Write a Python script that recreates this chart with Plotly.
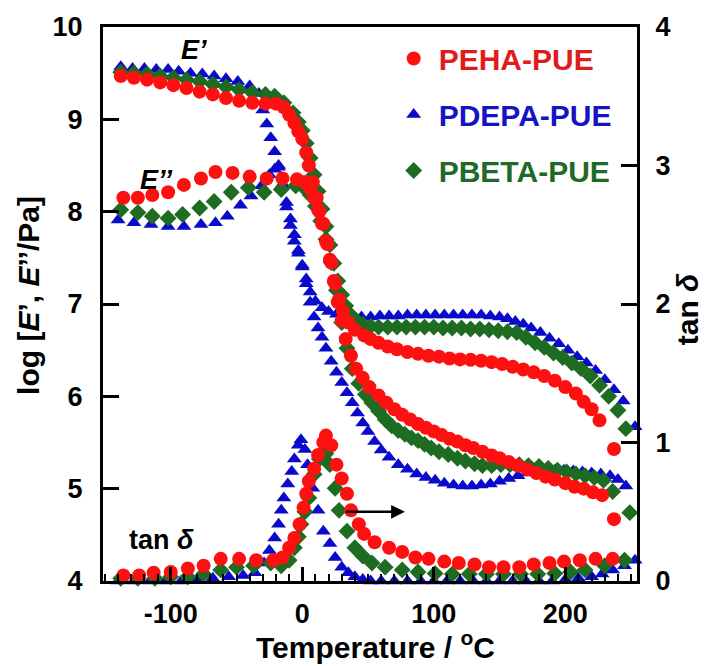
import plotly.graph_objects as go

# ---------------- data (temperature in degC) ----------------
# PEHA-PUE
peha_T_storage = [-138, -128, -118, -108, -98, -88, -78, -68, -58, -48, -38, -28, -20, -14, -10, -6, -3, 0, 3, 5, 8,
                  11, 13, 16, 19, 22, 25, 28, 31, 35, 40, 47, 52, 58, 65, 72, 80, 88, 96, 104, 112, 120, 128, 136,
                  144, 152, 160, 168, 176, 184, 192, 200, 208, 214, 220, 226, 237]
peha_storage = [9.47, 9.45, 9.43, 9.40, 9.37, 9.34, 9.30, 9.27, 9.23, 9.20, 9.18, 9.17, 9.17, 9.13, 9.05, 8.96, 8.87,
                8.79, 8.64, 8.50, 8.32, 8.15, 8.00, 7.87, 7.65, 7.45, 7.22, 7.05, 6.92, 6.80, 6.72, 6.66, 6.62, 6.58,
                6.54, 6.51, 6.48, 6.46, 6.44, 6.43, 6.41, 6.40, 6.395, 6.385, 6.37, 6.35, 6.32, 6.29, 6.26, 6.22,
                6.17, 6.10, 6.03, 5.94, 5.86, 5.74, 5.43]
peha_T_loss = [-136, -125, -114, -102, -90, -77, -66, -53, -40, -27, -15, -4, 2, 6, 9, 12, 15, 18, 21, 24, 27, 30, 33,
               37, 41, 46, 51, 58, 64, 70, 76, 82, 88, 94, 100, 106, 112, 118, 124, 130, 137, 144, 150, 157, 164, 171,
               178, 185, 192, 200, 207, 214, 221, 228, 237]
peha_loss = [8.15, 8.15, 8.18, 8.21, 8.29, 8.36, 8.43, 8.42, 8.38, 8.36, 8.36, 8.35, 8.32, 8.25, 8.15, 8.02, 7.87, 7.68,
             7.48, 7.25, 7.02, 6.82, 6.62, 6.44, 6.30, 6.20, 6.10, 6.01, 5.93, 5.86, 5.80, 5.75, 5.70, 5.66, 5.62,
             5.58, 5.54, 5.51, 5.47, 5.44, 5.40, 5.36, 5.33, 5.29, 5.25, 5.21, 5.17, 5.13, 5.10, 5.06, 5.02, 5.00,
             4.96, 4.93, 4.67]
peha_T_tan = [-136, -124, -113, -100, -87, -75, -62, -48, -35, -22, -15, -10, -6, -2, 1, 3, 5, 9, 12, 16, 18, 22, 26, 30,
              34, 37, 43, 47, 55, 66, 76, 86, 96, 108, 119, 131, 142, 153, 165, 176, 188, 199, 211, 223, 236]
peha_tan = [0.04, 0.04, 0.06, 0.065, 0.09, 0.11, 0.16, 0.16, 0.15, 0.15, 0.17, 0.24, 0.31, 0.41, 0.53, 0.63, 0.72,
            0.81, 0.91, 1.00, 1.05, 0.98, 0.84, 0.74, 0.63, 0.51, 0.41, 0.34, 0.28, 0.24, 0.21, 0.17, 0.16, 0.14,
            0.13, 0.12, 0.10, 0.10, 0.10, 0.12, 0.13, 0.14, 0.15, 0.16, 0.16]

# PDEPA-PUE
pdepa_T_storage = [-138, -129, -120, -111, -102, -94, -85, -76, -67, -58, -49, -40, -33, -30, -27, -24, -21, -18, -15,
                   -12, -9, -6, -3, 0, 3, 6, 10, 15, 20, 26, 32, 38, 45, 52, 59, 66, 73, 80, 87, 94, 101, 108, 115,
                   122, 129, 136, 143, 150, 156, 162, 168, 174, 181, 188, 195, 202, 209, 216, 223, 230, 237, 244, 253]
pdepa_storage = [9.57, 9.55, 9.55, 9.54, 9.54, 9.52, 9.50, 9.49, 9.47, 9.44, 9.41, 9.36, 9.28, 9.10, 8.95, 8.80, 8.65,
                 8.50, 8.30, 8.10, 7.92, 7.75, 7.58, 7.42, 7.27, 7.13, 7.03, 6.96, 6.92, 6.89, 6.87, 6.86, 6.86, 6.86,
                 6.87, 6.87, 6.87, 6.88, 6.88, 6.88, 6.88, 6.88, 6.88, 6.88, 6.88, 6.88, 6.87, 6.86, 6.84, 6.81, 6.78,
                 6.74, 6.69, 6.63, 6.57, 6.50, 6.43, 6.36, 6.28, 6.18, 6.07, 5.95, 5.67]
pdepa_T_loss = [-140, -128, -115, -102, -90, -77, -66, -57, -47, -39, -31, -25, -21, -18, -15, -12, -9, -6, -3, 0, 3, 6,
                9, 12, 15, 18, 22, 26, 30, 34, 38, 42, 46, 50, 55, 60, 66, 73, 80, 87, 94, 101, 108, 115, 122, 129,
                136, 143, 150, 157, 164, 171, 178, 185, 192, 199, 206, 213, 220, 227, 234, 240, 246]
pdepa_loss = [7.91, 7.88, 7.86, 7.84, 7.84, 7.86, 7.88, 7.95, 8.07, 8.17, 8.28, 8.40, 8.46, 8.48, 8.28, 8.05, 7.85,
              7.68, 7.55, 7.40, 7.22, 7.02, 6.86, 6.74, 6.64, 6.52, 6.38, 6.26, 6.15, 6.04, 5.93, 5.82, 5.71, 5.62,
              5.51, 5.42, 5.34, 5.26, 5.21, 5.16, 5.12, 5.09, 5.06, 5.04, 5.03, 5.03, 5.04, 5.05, 5.08, 5.11, 5.14,
              5.17, 5.19, 5.20, 5.20, 5.20, 5.19, 5.18, 5.17, 5.16, 5.14, 5.10, 5.03]
pdepa_T_tan = [-140, -128, -116, -104, -92, -80, -68, -56, -45, -36, -29, -25, -21, -18, -16, -14, -11, -8, -6, -3, -1,
               2, 4, 8, 12, 16, 21, 25, 30, 35, 40, 46, 52, 60, 70, 80, 90, 100, 110, 120, 130, 140, 150, 160, 170,
               180, 190, 200, 210, 220, 228, 236, 245, 253]
pdepa_tan = [0.0, 0.0, 0.0, 0.0, 0.0, 0.01, 0.02, 0.03, 0.04, 0.06, 0.13, 0.22, 0.31, 0.41, 0.51, 0.60, 0.70, 0.79,
             0.88, 0.98, 1.02, 0.95, 0.84, 0.67, 0.51, 0.36, 0.27, 0.17, 0.10, 0.06, 0.03, 0.01, 0.0, 0.0, 0.0, 0.0,
             0.0, 0.0, 0.0, 0.0, 0.0, 0.0, 0.0, 0.0, 0.0, 0.0, 0.0, 0.01, 0.02, 0.03, 0.05, 0.08, 0.11, 0.15]

# PBETA-PUE
pbeta_T_storage = [-138, -128, -118, -108, -98, -88, -78, -68, -58, -48, -38, -28, -21, -14, -7, -3, 0, 3, 6, 9, 12,
                   15, 18, 21, 24, 27, 30, 33, 37, 41, 46, 52, 58, 65, 72, 79, 86, 93, 100, 107, 114, 121, 128, 135,
                   142, 149, 156, 163, 170, 177, 184, 191, 198, 205, 212, 219, 226, 233, 240, 246]
pbeta_storage = [9.51, 9.50, 9.49, 9.47, 9.45, 9.43, 9.41, 9.38, 9.35, 9.32, 9.29, 9.27, 9.25, 9.18, 9.07, 8.97, 8.88,
                 8.74, 8.58, 8.40, 8.22, 8.03, 7.84, 7.64, 7.44, 7.25, 7.10, 6.98, 6.88, 6.82, 6.78, 6.76, 6.75, 6.75,
                 6.75, 6.75, 6.75, 6.75, 6.75, 6.74, 6.74, 6.74, 6.73, 6.73, 6.72, 6.71, 6.70, 6.69, 6.64, 6.58, 6.53,
                 6.47, 6.42, 6.36, 6.30, 6.22, 6.12, 6.00, 5.85, 5.65]
pbeta_T_loss = [-138, -125, -114, -102, -91, -78, -67, -54, -41, -29, -16, -5, 2, 6, 10, 14, 18, 22, 26, 30, 34, 38, 43,
                48, 53, 58, 63, 68, 73, 78, 83, 88, 93, 98, 104, 111, 118, 124, 131, 137, 144, 151, 158, 165, 172, 180,
                187, 194, 201, 208, 215, 222, 229, 236, 249]
pbeta_loss = [8.02, 7.99, 7.95, 7.93, 7.97, 8.04, 8.11, 8.21, 8.26, 8.21, 8.24, 8.28, 8.25, 8.18, 8.06, 7.90, 7.70,
              7.45, 7.15, 6.80, 6.52, 6.30, 6.14, 6.02, 5.93, 5.84, 5.75, 5.68, 5.63, 5.59, 5.55, 5.52, 5.48, 5.44,
              5.40, 5.37, 5.33, 5.30, 5.27, 5.25, 5.25, 5.26, 5.26, 5.26, 5.25, 5.24, 5.22, 5.20, 5.18, 5.16, 5.14,
              5.12, 5.09, 4.97, 4.74]
pbeta_T_tan = [-138, -125, -112, -100, -87, -75, -62, -50, -37, -24, -16, -10, -6, -3, -1, 2, 5, 9, 13, 16, 18, 21, 25,
               28, 34, 40, 46, 53, 63, 76, 88, 101, 114, 127, 140, 153, 166, 179, 192, 204, 215, 230, 245]
pbeta_tan = [0.02, 0.02, 0.02, 0.03, 0.03, 0.05, 0.08, 0.10, 0.11, 0.13, 0.11, 0.15, 0.24, 0.32, 0.41, 0.50, 0.60, 0.77,
             0.88, 0.93, 0.92, 0.84, 0.67, 0.51, 0.36, 0.24, 0.18, 0.13, 0.10, 0.08, 0.065, 0.055, 0.05, 0.05, 0.05,
             0.05, 0.05, 0.05, 0.055, 0.065, 0.08, 0.11, 0.15]

# axis ticks
x_tickvals = [-100, 0, 100, 200]
x_ticktext = ["-100", "0", "100", "200"]
left_tickvals = [4, 5, 6, 7, 8, 9, 10]
right_tickvals = [0, 1, 2, 3, 4]

FONT = "Liberation Sans, Arial, Helvetica, sans-serif"
BLACK = "#000000"

series = [
    # name, marker colour, text colour, symbol, size, rank, data
    ("PDEPA-PUE", "#0a0acb", "#1414c4", "triangle-up", 13, 2,
     pdepa_T_storage, pdepa_storage, pdepa_T_loss, pdepa_loss, pdepa_T_tan, pdepa_tan),
    ("PBETA-PUE", "#1e6b22", "#1f6a26", "diamond", 13, 3,
     pbeta_T_storage, pbeta_storage, pbeta_T_loss, pbeta_loss, pbeta_T_tan, pbeta_tan),
    ("PEHA-PUE", "#ff1010", "#e01b1b", "circle", 14, 1,
     peha_T_storage, peha_storage, peha_T_loss, peha_loss, peha_T_tan, peha_tan),
]

fig = go.Figure()

for (name, color, tcolor, symbol, size, rank, t1, v1, t2, v2, t3, v3) in series:
    marker = dict(color=color, symbol=symbol, size=size, line=dict(width=0))
    label = f"<span style='color:{tcolor}'>{name}</span>"
    fig.add_trace(go.Scatter(x=t1, y=v1, mode="markers", marker=marker, name=label,
                             legendgroup=name, legendrank=rank, showlegend=True,
                             cliponaxis=False, yaxis="y"))
    fig.add_trace(go.Scatter(x=t2, y=v2, mode="markers", marker=marker, name=label,
                             legendgroup=name, showlegend=False, cliponaxis=False, yaxis="y"))
    fig.add_trace(go.Scatter(x=t3, y=v3, mode="markers", marker=marker, name=label,
                             legendgroup=name, showlegend=False, cliponaxis=False, yaxis="y2"))

axis_font = dict(family=FONT, size=27, color=BLACK, weight="bold")
title_font = dict(family=FONT, size=30, color=BLACK, weight="bold")
label_font = dict(family=FONT, size=27, color=BLACK, weight="bold")

fig.update_layout(
    width=713, height=666,
    margin=dict(l=103, r=76, t=20, b=85),
    paper_bgcolor="white", plot_bgcolor="white",
    showlegend=True,
    legend=dict(x=0.535, y=0.99, xanchor="left", yanchor="top",
                font=dict(family=FONT, size=30, weight="bold"),
                bgcolor="rgba(255,255,255,0)", itemwidth=40, tracegroupgap=14,
                traceorder="grouped"),
    xaxis=dict(range=[-151.5, 254.5], tickvals=x_tickvals, ticktext=x_ticktext,
               ticks="inside", ticklen=14, tickwidth=3, tickcolor=BLACK,
               minor=dict(dtick=10, ticks="inside", ticklen=7, tickwidth=2, tickcolor=BLACK),
               showline=True, linewidth=3, linecolor=BLACK, mirror=True,
               showgrid=False, zeroline=False, tickfont=axis_font, ticklabelstandoff=7),
    yaxis=dict(range=[4, 10], tickvals=left_tickvals,
               ticks="inside", ticklen=16, tickwidth=3, tickcolor=BLACK,
               showline=True, linewidth=3, linecolor=BLACK,
               showgrid=False, zeroline=False, tickfont=axis_font, ticklabelstandoff=12),
    yaxis2=dict(range=[0, 4], tickvals=right_tickvals, overlaying="y", side="right",
                ticks="inside", ticklen=16, tickwidth=3, tickcolor=BLACK,
                showline=True, linewidth=3, linecolor=BLACK,
                showgrid=False, zeroline=False, tickfont=axis_font, ticklabelstandoff=10),
)

annotations = [
    # axis titles
    dict(text="Temperature / <sup>o</sup>C", xref="paper", yref="paper", x=0.51, y=-0.116,
         xanchor="center", yanchor="middle", showarrow=False, font=title_font),
    dict(text="log [<i>E</i>’, <i>E</i>’’/Pa]", xref="paper", yref="paper", x=-0.14, y=0.515,
         xanchor="center", yanchor="middle", textangle=-90, showarrow=False, font=title_font),
    dict(text="tan <i>δ</i>", xref="paper", yref="paper", x=1.095, y=0.49,
         xanchor="center", yanchor="middle", textangle=-90, showarrow=False, font=title_font),
    # curve labels
    dict(text="<i>E’</i>", xref="x", yref="y", x=-82, y=9.75, showarrow=False, font=label_font),
    dict(text="<i>E’’</i>", xref="x", yref="y", x=-111, y=8.34, showarrow=False, font=label_font),
    dict(text="tan <i>δ</i>", xref="x", yref="y", x=-107, y=4.44, showarrow=False, font=label_font),
    # arrow pointing to the tan delta axis
    dict(text="", xref="x", yref="y2", x=78, y=0.5, axref="x", ayref="y2", ax=32, ay=0.5,
         showarrow=True, arrowhead=2, arrowsize=1.1, arrowwidth=2.5, arrowcolor=BLACK),
]
fig.update_layout(annotations=annotations)

fig.write_html("out.html")
